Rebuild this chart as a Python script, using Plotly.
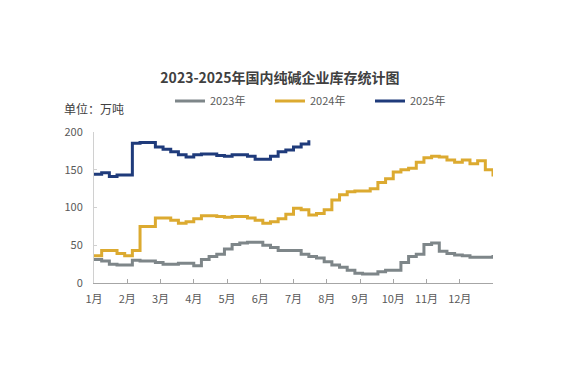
import plotly.graph_objects as go

month_labels = ["1月", "2月", "3月", "4月", "5月", "6月", "7月", "8月", "9月", "10月", "11月", "12月"]

# weekly inventory (万吨), week 0..52 spanning Jan..Dec
y2023 = [31, 29, 25, 24, 24, 30, 29, 29, 27, 25, 25, 26, 26, 23, 31, 35, 38, 45, 51, 53,
         54, 54, 50, 47, 43, 43, 43, 38, 35, 33, 28, 24, 21, 17, 13, 12, 12, 15, 17, 17,
         27, 35, 38, 51, 53, 42, 39, 37, 36, 34, 34, 34, 37]
y2024 = [36, 43, 43, 39, 36, 43, 75, 75, 86, 86, 83, 79, 81, 85, 89, 89, 88, 87, 88, 88,
         86, 83, 79, 81, 85, 91, 99, 97, 90, 92, 97, 110, 117, 121, 122, 122, 125, 133, 138, 147,
         150, 152, 160, 166, 168, 167, 163, 160, 163, 158, 162, 150, 141]
y2025 = [144, 146, 141, 143, 143, 185, 186, 186, 180, 177, 174, 170, 167, 170, 171, 171, 169, 168, 170, 170,
         168, 164, 164, 168, 174, 176, 180, 184, 189]

series = [("2023年", y2023, "#7e8689"), ("2024年", y2024, "#dcaa30"), ("2025年", y2025, "#1f3b7b")]

fig = go.Figure()
for name, vals, color in series:
    xs = [i * 12 / 52 for i in range(len(vals))]
    fig.add_trace(go.Scatter(x=xs, y=vals, mode="lines", name=name,
                             line=dict(color=color, width=3, shape="hv")))

W, H = 566, 380
OFF = 8  # page body margin offset

fig.update_layout(
    width=W, height=H,
    paper_bgcolor="white", plot_bgcolor="white",
    margin=dict(l=94 - OFF, r=W - 493 + OFF, t=132 - OFF, b=H - 283 + OFF, autoexpand=False),
    font=dict(family="Noto Sans CJK SC, sans-serif", size=11, color="#595959"),
    title=dict(text="<b>2023-2025年国内纯碱企业库存统计图</b>", x=(280 - OFF) / W, xanchor="center",
               xref="container", yref="container",
               y=1 - (78 - OFF) / H, yanchor="middle", font=dict(size=14, color="#404040")),
    legend=dict(orientation="h", xref="container", yref="container",
                x=(170 - OFF) / W, xanchor="left", y=1 - (101 - OFF) / H, yanchor="middle",
                font=dict(size=11, color="#595959"), itemwidth=30, entrywidth=55,
                traceorder="normal", bgcolor="rgba(0,0,0,0)"),
    showlegend=True,
    annotations=[dict(text="单位：万吨", xref="paper", yref="paper", x=(62 - 94) / 399, y=1 + 24 / 151,
                      xanchor="left", yanchor="middle", showarrow=False,
                      font=dict(size=12, color="#404040"))],
)
fig.update_xaxes(range=[0, 12], tickmode="array", tickvals=list(range(12)), ticktext=month_labels,
                 showline=True, linecolor="#a6a6a6", linewidth=1, ticks="inside", ticklen=4,
                 tickcolor="#a6a6a6", showgrid=False, zeroline=False, fixedrange=True,
                 ticklabelstandoff=6)
fig.update_yaxes(range=[0, 200], tickvals=[0, 50, 100, 150, 200],
                 showline=True, linecolor="#d0d0d0", linewidth=1, ticks="inside", ticklen=3,
                 tickcolor="#d0d0d0", showgrid=False, zeroline=False, fixedrange=True,
                 ticklabelstandoff=8)

fig.write_html("out.html")
